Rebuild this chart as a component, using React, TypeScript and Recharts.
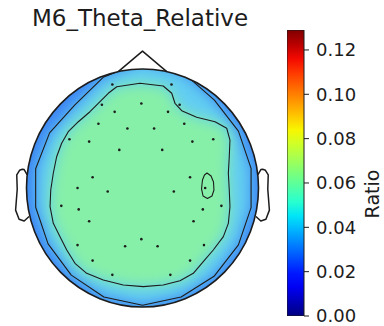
import React from "react";
import { ScatterChart, Scatter, XAxis, YAxis, Curve, BarChart, Bar } from "recharts";

type Pair = [number, number];
type P = { x: number; y: number };

// sensor layout on the unit head (nose up, right ear at +x)
const sensorX = [-0.26, 0.25, -0.35, -0.01, 0.32, -0.24, 0.22, -0.38, 0.36, -0.13, 0.1, -0.63, -0.46, 0.43, 0.61, -0.2, 0.17, -0.43, 0.41, 0.54, -0.56, -0.3, 0.27, -0.7, -0.55, 0.52, 0.68, -0.46, 0.44, -0.01, -0.56, -0.15, 0.13, 0.53, -0.43, 0.41, -0.26, 0.24];
const sensorY = [0.87, 0.87, 0.7, 0.71, 0.7, 0.64, 0.64, 0.54, 0.54, 0.5, 0.5, 0.41, 0.39, 0.39, 0.41, 0.32, 0.32, 0.09, 0.09, 0.0, 0.0, -0.03, -0.03, -0.15, -0.18, -0.18, -0.15, -0.28, -0.28, -0.43, -0.48, -0.49, -0.49, -0.48, -0.61, -0.61, -0.73, -0.73];

// iso-lines of the interpolated ratio (0.04 outer, 0.06 inner)
const contourOuter: Pair[] = [
  [0, 1.06], [0.352, 0.968], [0.62, 0.739], [0.827, 0.478], [0.936, 0.165],
  [0.936, -0.165], [0.827, -0.478], [0.62, -0.739], [0.333, -0.916], [0, -0.985],
  [-0.333, -0.916], [-0.614, -0.732], [-0.814, -0.47], [-0.921, -0.162], [-0.921, 0.162],
  [-0.801, 0.463], [-0.585, 0.697], [-0.339, 0.93],
];

const contourInner: Pair[] = [
  [-0.222, 0.851], [-0.022, 0.88], [0.179, 0.857], [0.252, 0.796], [0.28, 0.712],
  [0.338, 0.65], [0.467, 0.594], [0.625, 0.557], [0.726, 0.502], [0.754, 0.403],
  [0.748, 0.263], [0.74, 0.124], [0.748, -0.017], [0.754, -0.157], [0.74, -0.297],
  [0.697, -0.409], [0.61, -0.521], [0.524, -0.619], [0.438, -0.717], [0.323, -0.779],
  [0.179, -0.815], [0.007, -0.829], [-0.166, -0.815], [-0.338, -0.773], [-0.481, -0.717],
  [-0.582, -0.633], [-0.653, -0.521], [-0.711, -0.409], [-0.769, -0.297], [-0.797, -0.157],
  [-0.791, -0.017], [-0.769, 0.124], [-0.74, 0.263], [-0.697, 0.376], [-0.64, 0.473],
  [-0.553, 0.557], [-0.453, 0.641], [-0.366, 0.725], [-0.295, 0.796],
];

const contourIsland: Pair[] = [
  [0.556, 0.126], [0.591, 0.101], [0.612, 0.05], [0.616, -0.017], [0.599, -0.067],
  [0.56, -0.088], [0.522, -0.067], [0.509, -0.008], [0.517, 0.067], [0.534, 0.109],
];

// fill colours: rim (< 0.04), between the iso-lines, centre (> 0.06)
const fillRim = "#3d86f3";
const fillBand = "#62cdf2";
const fillCentre = "#86f0a8";

// head outline: the four extreme points of the unit circle
const headRim: Pair[] = [[-1, 0], [1, 0], [0, 1], [0, -1]];
const nose: Pair[] = [[-0.209, 0.978], [0, 1.15], [0.209, 0.978]];
const earX = [0.994, 1.02, 1.036, 1.06, 1.084, 1.08, 1.094, 1.064, 1.02, 0.978];
const earY = [0.111, 0.155, 0.157, 0.149, 0.111, -0.011, -0.186, -0.263, -0.277, -0.24];

// colour bar
const cbarMax = 0.129;
const cbarTicks = [0, 0.02, 0.04, 0.06, 0.08, 0.1, 0.12];

// layout
const HEAD_CX = 142.5;
const HEAD_CY = 188;
const HEAD_RX = 116;
const HEAD_RY = 119;
const TOPO_TOP = 36;
const TOPO_W = 280;
const TOPO_H = 290;
const xDomain = [-HEAD_CX / HEAD_RX, (TOPO_W - HEAD_CX) / HEAD_RX];
const yDomain = [(HEAD_CY - TOPO_TOP - TOPO_H) / HEAD_RY, (HEAD_CY - TOPO_TOP) / HEAD_RY];

const INK = "#1c1c1c";
const FONT = "'DejaVu Sans', sans-serif";

const JET: Record<"r" | "g" | "b", Pair[]> = {
  r: [[0, 0], [0.35, 0], [0.66, 1], [0.89, 1], [1, 0.5]],
  g: [[0, 0], [0.125, 0], [0.375, 1], [0.64, 1], [0.91, 0], [1, 0]],
  b: [[0, 0.5], [0.11, 1], [0.34, 1], [0.65, 0], [1, 0]],
};

function channel(seg: Pair[], t: number) {
  for (let i = 1; i < seg.length; i++) {
    if (t <= seg[i][0]) {
      const [t0, v0] = seg[i - 1];
      const [t1, v1] = seg[i];
      return v0 + ((v1 - v0) * (t - t0)) / (t1 - t0);
    }
  }
  return seg[seg.length - 1][1];
}

function jet(t: number) {
  const c = Math.max(0, Math.min(1, t));
  const to = (v: number) => Math.round(v * 255);
  return `rgb(${to(channel(JET.r, c))},${to(channel(JET.g, c))},${to(channel(JET.b, c))})`;
}

const toPts = (pairs: Pair[]): P[] => pairs.map(([x, y]) => ({ x, y }));
const earRight = toPts(earX.map((x, i) => [x, earY[i]] as Pair));
const earLeft = toPts(earX.map((x, i) => [-x, earY[i]] as Pair));
const sensors = sensorX.map((x, i) => ({ x, y: sensorY[i] }));

const noDot = () => <g />;

function ellipseOf(points: P[]) {
  const xs = points.map((p) => p.x);
  const ys = points.map((p) => p.y);
  const x0 = Math.min(...xs), x1 = Math.max(...xs);
  const y0 = Math.min(...ys), y1 = Math.max(...ys);
  return { cx: (x0 + x1) / 2, cy: (y0 + y1) / 2, rx: (x1 - x0) / 2, ry: (y1 - y0) / 2 };
}

const headBase = (p: any) => {
  const e = ellipseOf(p.points);
  return (
    <g>
      <defs>
        <clipPath id="head-clip">
          <ellipse {...e} />
        </clipPath>
      </defs>
      <ellipse {...e} fill={fillRim} stroke="none" />
    </g>
  );
};

const headOutline = (p: any) => {
  const e = ellipseOf(p.points);
  return <ellipse {...e} fill="none" stroke={INK} strokeWidth={1.6} />;
};

const band = (fill: string) => (p: any) => (
  <g clipPath="url(#head-clip)">
    <g filter="url(#soft)">
      <Curve type="linearClosed" points={p.points} fill={fill} stroke="none" />
    </g>
  </g>
);

const isoLine = (p: any) => (
  <g clipPath="url(#head-clip)">
    <Curve type="linearClosed" points={p.points} fill="none" stroke={INK} strokeWidth={1.1} strokeLinejoin="round" />
  </g>
);

const outline = (p: any) => (
  <Curve type="linear" points={p.points} fill="none" stroke={INK} strokeWidth={1.5} strokeLinejoin="round" />
);

function Topomap() {
  return (
    <ScatterChart
      width={TOPO_W}
      height={TOPO_H}
      margin={{ top: 0, right: 0, bottom: 0, left: 0 }}
      style={{ position: "absolute", left: 0, top: TOPO_TOP }}
    >
      <defs>
        <filter id="soft" x="-30%" y="-30%" width="160%" height="160%">
          <feGaussianBlur stdDeviation={7} />
        </filter>
      </defs>
      <XAxis type="number" dataKey="x" domain={xDomain} allowDataOverflow hide />
      <YAxis type="number" dataKey="y" domain={yDomain} allowDataOverflow hide />
      <Scatter data={toPts(headRim)} line={headBase} shape={noDot} isAnimationActive={false} />
      <Scatter data={toPts(contourOuter)} line={band(fillBand)} shape={noDot} isAnimationActive={false} />
      <Scatter data={toPts(contourInner)} line={band(fillCentre)} shape={noDot} isAnimationActive={false} />
      <Scatter data={toPts(contourOuter)} line={isoLine} shape={noDot} isAnimationActive={false} />
      <Scatter data={toPts(contourInner)} line={isoLine} shape={noDot} isAnimationActive={false} />
      <Scatter data={toPts(contourIsland)} line={isoLine} shape={noDot} isAnimationActive={false} />
      <Scatter
        data={sensors}
        shape={(p: any) => <circle cx={p.cx} cy={p.cy} r={1.3} fill={INK} />}
        isAnimationActive={false}
      />
      <Scatter data={toPts(headRim)} line={headOutline} shape={noDot} isAnimationActive={false} />
      <Scatter data={toPts(nose)} line={outline} shape={noDot} isAnimationActive={false} />
      <Scatter data={earRight} line={outline} shape={noDot} isAnimationActive={false} />
      <Scatter data={earLeft} line={outline} shape={noDot} isAnimationActive={false} />
    </ScatterChart>
  );
}

const jetStops = Array.from({ length: 21 }, (_, i) => i / 20);

function ColorBar() {
  return (
    <BarChart
      width={92}
      height={300}
      data={[{ name: "ratio", v: cbarMax }]}
      margin={{ top: 0, right: 0, bottom: 14, left: 0 }}
      barCategoryGap={0}
      style={{ position: "absolute", left: 287, top: 30 }}
    >
      <defs>
        <linearGradient id="jet-bar" x1="0" y1="1" x2="0" y2="0">
          {jetStops.map((t) => (
            <stop key={t} offset={t} stopColor={jet(t)} />
          ))}
        </linearGradient>
      </defs>
      <XAxis dataKey="name" hide />
      <YAxis
        orientation="right"
        type="number"
        domain={[0, cbarMax]}
        ticks={cbarTicks}
        tickFormatter={(v: number) => v.toFixed(2)}
        width={75}
        tickSize={5}
        tickMargin={7}
        axisLine={false}
        tickLine={{ stroke: INK }}
        tick={{ fontSize: 18, fill: INK, fontFamily: FONT }}
        allowDataOverflow
      />
      <Bar dataKey="v" fill="url(#jet-bar)" stroke={INK} strokeWidth={1} isAnimationActive={false} />
    </BarChart>
  );
}

export default function App() {
  return (
    <div
      style={{
        position: "absolute",
        left: 0,
        top: 0,
        width: 384,
        height: 326,
        background: "#fff",
        fontFamily: FONT,
        overflow: "hidden",
      }}
    >
      <div
        style={{
          position: "absolute",
          left: 0,
          width: 280,
          top: 5,
          textAlign: "center",
          fontSize: 23,
          color: INK,
          lineHeight: "27px",
        }}
      >
        M6_Theta_Relative
      </div>
      <Topomap />
      <ColorBar />
      <svg width={384} height={326} style={{ position: "absolute", left: 0, top: 0, pointerEvents: "none" }}>
        <text
          x={372}
          y={194}
          transform="rotate(-90 372 194)"
          textAnchor="middle"
          dominantBaseline="central"
          fontSize={19}
          fill={INK}
          fontFamily={FONT}
        >
          Ratio
        </text>
      </svg>
    </div>
  );
}
